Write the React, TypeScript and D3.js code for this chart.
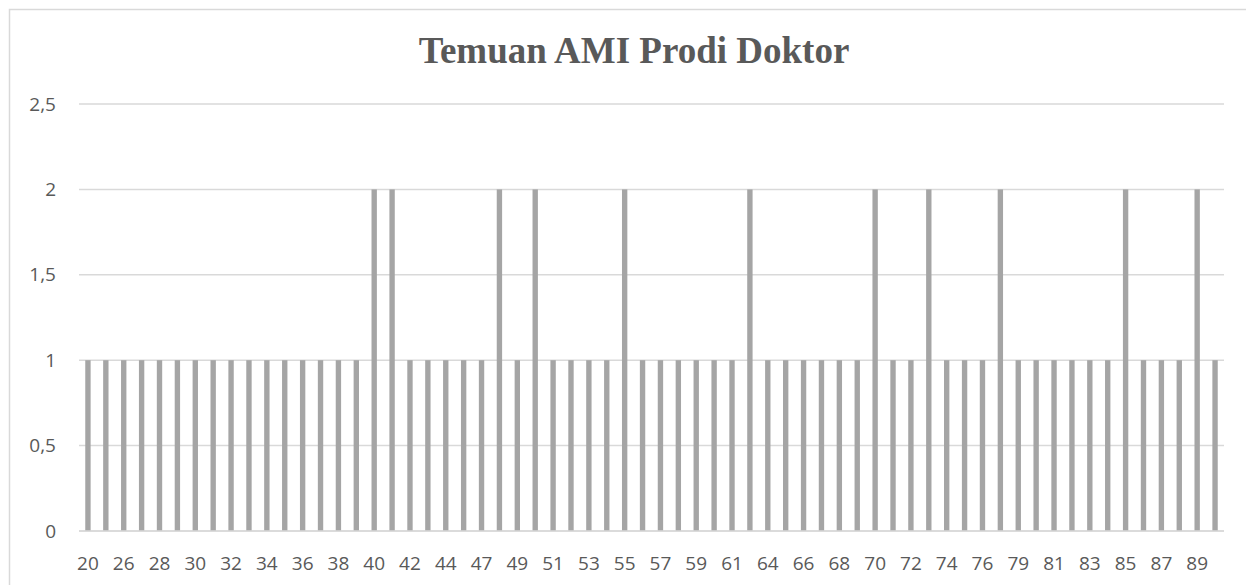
import React, { useEffect, useRef } from 'react'
import * as d3 from 'd3'

// nomor temuan (label tiap kategori)
const categories = [
  '20', '25', '26', '27', '28', '29', '30', '31', '32', '33', '34', '35', '36', '37', '38', '39',
  '40', '41', '42', '43', '44', '46', '47', '48', '49', '50', '51', '52', '53', '54', '55', '56',
  '57', '58', '59', '60', '61', '62', '64', '65', '66', '67', '68', '69', '70', '71', '72', '73',
  '74', '75', '76', '78', '79', '80', '81', '82', '83', '84', '85', '86', '87', '88', '89', '90'
]
const values = [
  1, 1, 1, 1, 1, 1, 1, 1, 1, 1, 1, 1, 1, 1, 1, 1,
  2, 2, 1, 1, 1, 1, 1, 2, 1, 2, 1, 1, 1, 1, 2, 1,
  1, 1, 1, 1, 1, 2, 1, 1, 1, 1, 1, 1, 2, 1, 1, 2,
  1, 1, 1, 2, 1, 1, 1, 1, 1, 1, 2, 1, 1, 1, 2, 1
]
const yTicks = [0, 0.5, 1, 1.5, 2, 2.5]
const title = 'Temuan AMI Prodi Doktor'

export default function App() {
  const ref = useRef<SVGSVGElement>(null)

  useEffect(() => {
    const svg = d3.select(ref.current)
    svg.selectAll('*').remove()

    const left = 79, right = 1224, top = 104, bottom = 531

    // bingkai chart
    svg.append('rect')
      .attr('x', 9.5).attr('y', 9.5)
      .attr('width', 1260).attr('height', 600)
      .attr('fill', '#fff')
      .attr('stroke', '#d9d9d9')
      .attr('stroke-width', 1.5)

    const data = categories.map((c, i) => ({ cat: c, val: values[i] }))

    const x = d3.scaleBand<string>()
      .domain(categories)
      .range([left, right])
      .paddingInner(0.7)
      .paddingOuter(0.35)
    const y = d3.scaleLinear().domain([0, 2.5]).range([bottom, top])

    // title
    svg.append('text')
      .attr('x', 634)
      .attr('y', 63)
      .attr('text-anchor', 'middle')
      .style('font-family', '"Liberation Serif", "Times New Roman", serif')
      .style('font-weight', 'bold')
      .style('font-size', '37px')
      .style('fill', '#595959')
      .text(title)

    // gridlines
    svg.append('g')
      .selectAll('line')
      .data(yTicks)
      .enter()
      .append('line')
      .attr('x1', left).attr('x2', right)
      .attr('y1', d => y(d)).attr('y2', d => y(d))
      .attr('stroke', '#d9d9d9')
      .attr('stroke-width', 1.5)

    // y labels
    svg.append('g')
      .selectAll('text')
      .data(yTicks)
      .enter()
      .append('text')
      .attr('x', 56)
      .attr('y', d => y(d))
      .attr('dy', '0.35em')
      .attr('text-anchor', 'end')
      .style('font-family', '"Open Sans", sans-serif')
      .style('font-size', '19px')
      .style('fill', '#595959')
      .text(d => String(d).replace('.', ','))

    // bars
    svg.append('g')
      .selectAll('rect')
      .data(data)
      .enter()
      .append('rect')
      .attr('x', d => x(d.cat) as number)
      .attr('y', d => y(d.val))
      .attr('width', x.bandwidth())
      .attr('height', d => y(0) - y(d.val))
      .style('fill', '#a5a5a5')

    // x axis line on top of bars
    svg.append('line')
      .attr('x1', left).attr('x2', right)
      .attr('y1', y(0)).attr('y2', y(0))
      .attr('stroke', '#d9d9d9')
      .attr('stroke-width', 1.5)

    // x labels, every other category
    svg.append('g')
      .selectAll('text')
      .data(categories.filter((_, i) => i % 2 === 0))
      .enter()
      .append('text')
      .attr('x', d => (x(d) as number) + x.bandwidth() / 2)
      .attr('y', 570)
      .attr('text-anchor', 'middle')
      .style('font-family', '"Open Sans", sans-serif')
      .style('font-size', '19px')
      .style('fill', '#595959')
      .text(d => d)
  }, [])

  return (
    <svg ref={ref} width={1246} height={585}
      style={{ position: 'absolute', left: 0, top: 0, background: '#fff' }} />
  )
}
